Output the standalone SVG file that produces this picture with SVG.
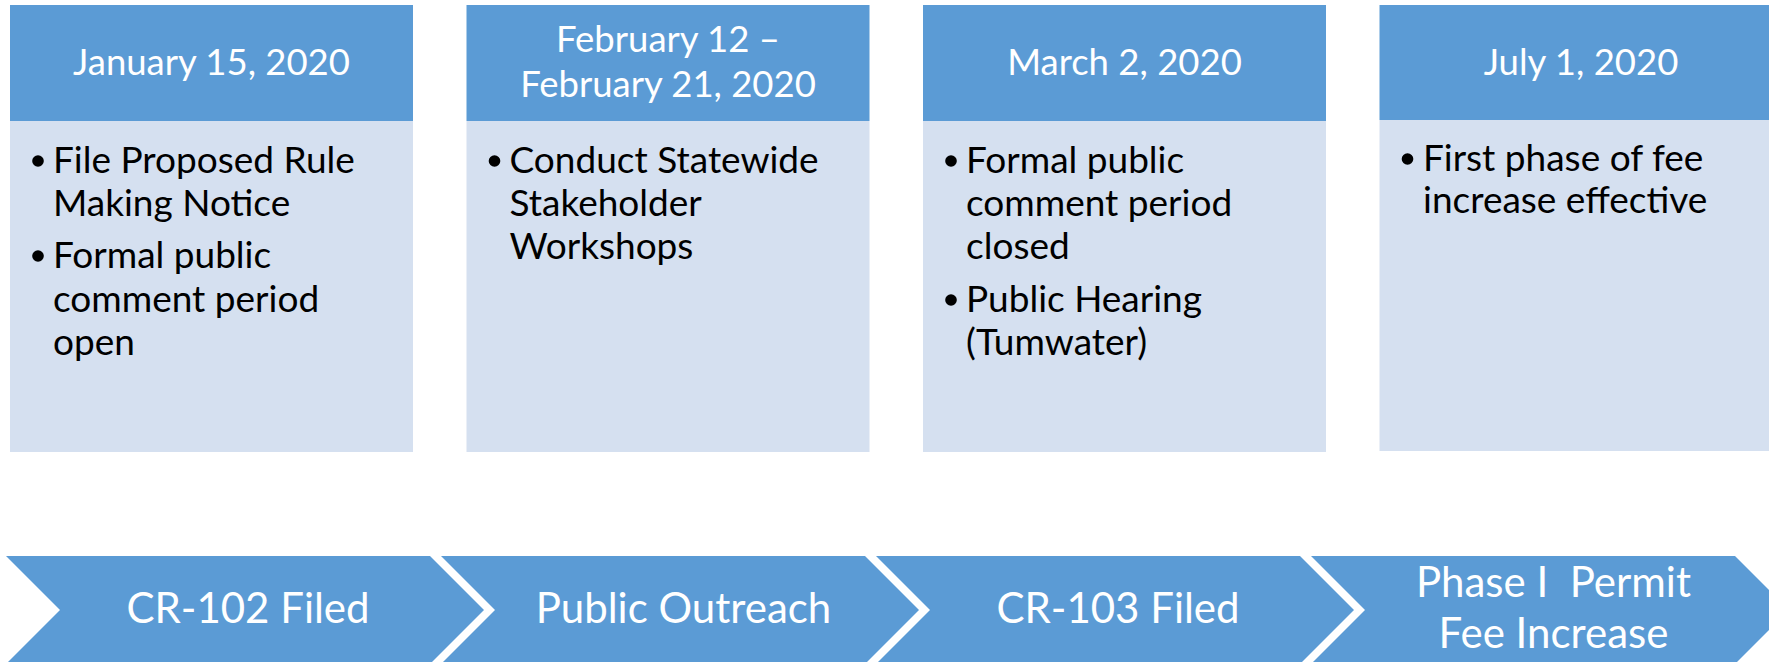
<svg xmlns="http://www.w3.org/2000/svg" width="1769" height="662" viewBox="0 0 1769 662">
<style>
.hdr{fill:#5B9BD5}
.body{fill:#D5E0F0}
.ht{font-family:Lato,"Liberation Sans",sans-serif;font-size:36.5px;fill:#FFFFFF;text-anchor:middle}
.bt{font-family:Lato,"Liberation Sans",sans-serif;font-size:37px;fill:#000000}
.dot{fill:#000000}
.chev{fill:#5B9BD5}
.ct{font-family:Lato,"Liberation Sans",sans-serif;font-size:42px;fill:#FFFFFF;text-anchor:middle;white-space:pre}
</style>
<rect width="1769" height="662" fill="#FFFFFF"/>
<g id="box1">
<rect class="hdr" x="10" y="5" width="403" height="116"/>
<rect class="body" x="10" y="121" width="403" height="331"/>
<text class="ht" x="211.5" y="75">January 15, 2020</text>
<circle class="dot" cx="38" cy="161" r="5.8"/>
<text class="bt" x="53" y="172.7">File Proposed Rule</text>
<text class="bt" x="53" y="216">Making Notice</text>
<circle class="dot" cx="38" cy="256" r="5.8"/>
<text class="bt" x="53" y="267.7">Formal public</text>
<text class="bt" x="53" y="311.7">comment period</text>
<text class="bt" x="53" y="355">open</text>
</g>
<g id="box2">
<rect class="hdr" x="466.5" y="5" width="403" height="116"/>
<rect class="body" x="466.5" y="121" width="403" height="331"/>
<text class="ht" x="668" y="52.3">February 12 –</text>
<text class="ht" x="668" y="96.7">February 21, 2020</text>
<circle class="dot" cx="494.5" cy="161" r="5.8"/>
<text class="bt" x="509.5" y="172.7">Conduct Statewide</text>
<text class="bt" x="509.5" y="216">Stakeholder</text>
<text class="bt" x="509.5" y="259.3">Workshops</text>
</g>
<g id="box3">
<rect class="hdr" x="923" y="5" width="403" height="116"/>
<rect class="body" x="923" y="121" width="403" height="331"/>
<text class="ht" x="1124.5" y="75">March 2, 2020</text>
<circle class="dot" cx="951" cy="161" r="5.8"/>
<text class="bt" x="966" y="172.7">Formal public</text>
<text class="bt" x="966" y="216">comment period</text>
<text class="bt" x="966" y="259.3">closed</text>
<circle class="dot" cx="951" cy="300" r="5.8"/>
<text class="bt" x="966" y="311.7">Public Hearing</text>
<text class="bt" x="966" y="355">(Tumwater)</text>
</g>
<g id="box4">
<rect class="hdr" x="1379.5" y="5" width="403" height="115"/>
<rect class="body" x="1379.5" y="120" width="403" height="331"/>
<text class="ht" x="1581" y="75">July 1, 2020</text>
<circle class="dot" cx="1407.5" cy="159" r="5.8"/>
<text class="bt" x="1423" y="170.7">First phase of fee</text>
<text class="bt" x="1423" y="213.3">increase effective</text>
</g>
<g id="connectors"></g>
<g id="chev1">
<path class="chev" d="M6,556 H430 L484,610 L430,664 H6 L60,610 Z"/>
<text class="ct" x="248" y="623.3">CR-102 Filed</text>
</g>
<g id="chev2">
<path class="chev" d="M441,556 H865 L919,610 L865,664 H441 L495,610 Z"/>
<text class="ct" x="683.5" y="623.3">Public Outreach</text>
</g>
<g id="chev3">
<path class="chev" d="M876,556 H1300 L1354,610 L1300,664 H876 L930,610 Z"/>
<text class="ct" x="1118" y="623.3">CR-103 Filed</text>
</g>
<g id="chev4">
<path class="chev" d="M1311,556 H1735 L1789,610 L1735,664 H1311 L1365,610 Z"/>
<text class="ct" x="1553.5" y="596.7">Phase I  Permit</text>
<text class="ct" x="1553.5" y="648">Fee Increase</text>
</g>
</svg>
